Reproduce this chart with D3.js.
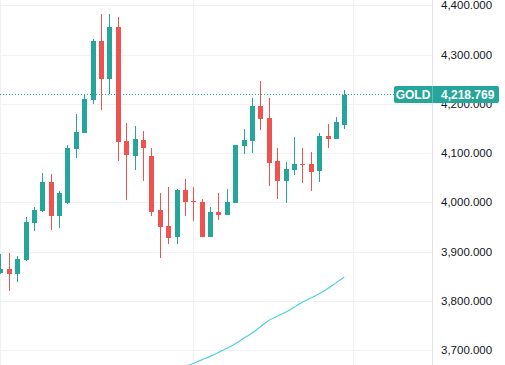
<!DOCTYPE html>
<html>
<head>
<meta charset="utf-8">
<script src="https://cdn.jsdelivr.net/npm/d3@7"></script>
<style>
  html, body { margin: 0; padding: 0; background: #fff; overflow: hidden; }
  text { font-family: "Liberation Sans", Arial, sans-serif; }
</style>
</head>
<body>
<div id="chart"></div>
<script>
// 캔들 데이터 (open, high, low, close)
var opens  = [3856, 3864.5, 3854.3, 3882.8, 3957.9, 3982.3, 4041.2, 3972.1, 3998.5, 4108.2,
              4140.7, 4207.7, 4327.5, 4250.3, 4355.9, 4124.4, 4094.0, 4126.5, 4094.0, 3984.3,
              3951.8, 3929.5, 4024.9, 4002.6, 4000.6, 3929.5, 3980.3, 3974.2, 3998.5, 4114.3,
              4124.4, 4195.5, 4171.1, 4083.8, 4043.2, 4065.5, 4077.7, 4077.7, 4063.5, 4134.6,
              4128.5, 4156.9];
var highs  = [3895, 3897.0, 3890.9, 3970.1, 3990.4, 4059.4, 4057.4, 4022.9, 4116.3, 4179.3,
              4219.9, 4331.6, 4382.3, 4382.3, 4376.2, 4161.0, 4154.9, 4144.7, 4110.2, 4018.8,
              4031.0, 4026.9, 4047.3, 4031.0, 4006.7, 3990.4, 4018.8, 4026.9, 4116.3, 4148.8,
              4211.8, 4246.3, 4211.8, 4110.2, 4081.8, 4132.5, 4110.2, 4102.1, 4140.7, 4159.0,
              4173.2, 4228.0];
var lows   = [3854.3, 3819.8, 3838.1, 3881.0, 3941.7, 3980.0, 3943.7, 3947.8, 3996.5, 4089.9,
              4140.0, 4199.6, 4187.4, 4219.9, 4083.8, 4004.6, 4065.5, 4043.2, 3972.1, 3886.8,
              3915.3, 3915.3, 3972.1, 3962.0, 3929.0, 3929.0, 3964.0, 3974.0, 3998.5, 4098.0,
              4100.1, 4146.8, 4033.0, 4006.7, 3998.5, 4055.4, 4039.1, 4022.9, 4041.2, 4110.2,
              4128.0, 4148.8];
var closes = [3864.5, 3854.3, 3884.8, 3959.9, 3984.3, 4041.2, 3972.1, 4018.8, 4110.2, 4142.7,
              4209.7, 4327.5, 4250.3, 4355.9, 4122.4, 4096.0, 4128.5, 4110.2, 3980.3, 3949.8,
              3927.5, 4024.9, 4000.6, 4000.6, 3929.5, 3980.3, 3974.2, 4000.6, 4116.3, 4126.5,
              4195.5, 4169.1, 4079.7, 4043.2, 4067.6, 4077.7, 4075.7, 4061.5, 4134.6, 4128.5,
              4163.0, 4218.769];

// 이동평균선 (index 22부터)
var maStart = 22;
var maValues = [3666.5, 3672.6, 3679.9, 3687.0, 3695.1, 3703.7, 3712.6, 3723.6, 3734.3, 3747.3,
                3759.9, 3768.4, 3776.6, 3786.7, 3797.1, 3805.6, 3814.2, 3824.5, 3836.3, 3848.3];

var priceTicks = [3700, 3800, 3900, 4000, 4100, 4200, 4300, 4400];
var timeGridIdx = [0, 23, 42];
var symbol = "GOLD";
var lastPrice = 4218.769;

var W = 505, H = 365, axisX = 432;
var up = "#26a69a", down = "#ef5350";

var svg = d3.select("#chart")
    .append("svg")
    .attr("width", W)
    .attr("height", H)
    .style("display", "block");

var x = d3.scaleLinear().domain([0, 42]).range([0.35, 352.7]);
var y = d3.scaleLinear().domain([3700, 4400]).range([350, 5.3]);
var fmt = d3.format(",.3f");

// 그리드
var grid = svg.append("g").attr("shape-rendering", "crispEdges");
grid.selectAll(".hg")
    .data(priceTicks)
    .enter().append("line")
    .attr("x1", 0).attr("x2", axisX)
    .attr("y1", function (d) { return Math.round(y(d)) + 0.5; })
    .attr("y2", function (d) { return Math.round(y(d)) + 0.5; })
    .attr("stroke", "#f0f1f3");
grid.selectAll(".vg")
    .data(timeGridIdx)
    .enter().append("line")
    .attr("y1", 0).attr("y2", H)
    .attr("x1", function (d) { return Math.round(x(d)) + 0.5; })
    .attr("x2", function (d) { return Math.round(x(d)) + 0.5; })
    .attr("stroke", "#f0f1f3");

// 이동평균선
var maLine = d3.line()
    .x(function (d, i) { return x(maStart + i); })
    .y(function (d) { return y(d); })
    .curve(d3.curveMonotoneX);
svg.append("path")
    .datum(maValues)
    .attr("d", maLine)
    .attr("fill", "none")
    .attr("stroke", "#4dd0e1")
    .attr("stroke-width", 1.2);

// 캔들
var candles = svg.append("g").attr("shape-rendering", "crispEdges");
var idx = d3.range(opens.length);
candles.selectAll(".wick")
    .data(idx)
    .enter().append("rect")
    .attr("x", function (i) { return Math.round(x(i)); })
    .attr("width", 1)
    .attr("y", function (i) { return y(highs[i]); })
    .attr("height", function (i) { return y(lows[i]) - y(highs[i]); })
    .attr("fill", function (i) { return closes[i] >= opens[i] ? up : down; });
candles.selectAll(".body")
    .data(idx)
    .enter().append("rect")
    .attr("x", function (i) { return Math.round(x(i)) - 2; })
    .attr("width", 5)
    .attr("y", function (i) { return y(Math.max(opens[i], closes[i])); })
    .attr("height", function (i) { return Math.max(1, Math.abs(y(opens[i]) - y(closes[i]))); })
    .attr("fill", function (i) { return closes[i] >= opens[i] ? up : down; });

// 가격축
svg.append("rect")
    .attr("x", axisX + 0.5).attr("y", 0)
    .attr("width", W - axisX).attr("height", H)
    .attr("fill", "#fff");
svg.append("line")
    .attr("x1", axisX + 0.5).attr("x2", axisX + 0.5)
    .attr("y1", 0).attr("y2", H)
    .attr("stroke", "#e0e3eb");
svg.selectAll(".tick-label")
    .data(priceTicks)
    .enter().append("text")
    .attr("x", 441)
    .attr("y", function (d) { return y(d); })
    .attr("dy", "0.35em")
    .attr("font-size", "11.5px")
    .attr("fill", "#131722")
    .text(function (d) { return fmt(d); });

// 현재가 라인과 라벨
var py = Math.floor(y(lastPrice)) + 0.5;
svg.append("line")
    .attr("x1", 0).attr("x2", 394)
    .attr("y1", py).attr("y2", py)
    .attr("stroke", up)
    .attr("shape-rendering", "crispEdges")
    .attr("stroke-dasharray", "1,2");
svg.append("rect")
    .attr("x", 394).attr("y", py - 8.5)
    .attr("width", 40).attr("height", 17)
    .attr("rx", 2).attr("fill", up);
svg.append("rect")
    .attr("x", 433).attr("y", py - 8.5)
    .attr("width", 66).attr("height", 17)
    .attr("rx", 2).attr("fill", up);
svg.append("rect")
    .attr("x", 430).attr("y", py - 8.5)
    .attr("width", 6).attr("height", 17)
    .attr("fill", up);
svg.append("line")
    .attr("x1", axisX + 0.5).attr("x2", axisX + 0.5)
    .attr("y1", py - 8.5).attr("y2", py + 8.5)
    .attr("stroke", "#5fc0b6");
svg.append("text")
    .attr("x", 413).attr("y", py)
    .attr("dy", "0.35em")
    .attr("text-anchor", "middle")
    .attr("font-size", "12px")
    .attr("font-weight", "600")
    .attr("fill", "#fff")
    .text(symbol);
svg.append("text")
    .attr("x", 441).attr("y", py)
    .attr("dy", "0.35em")
    .attr("font-size", "12px")
    .attr("font-weight", "600")
    .attr("fill", "#fff")
    .text(fmt(lastPrice));
</script>
</body>
</html>
